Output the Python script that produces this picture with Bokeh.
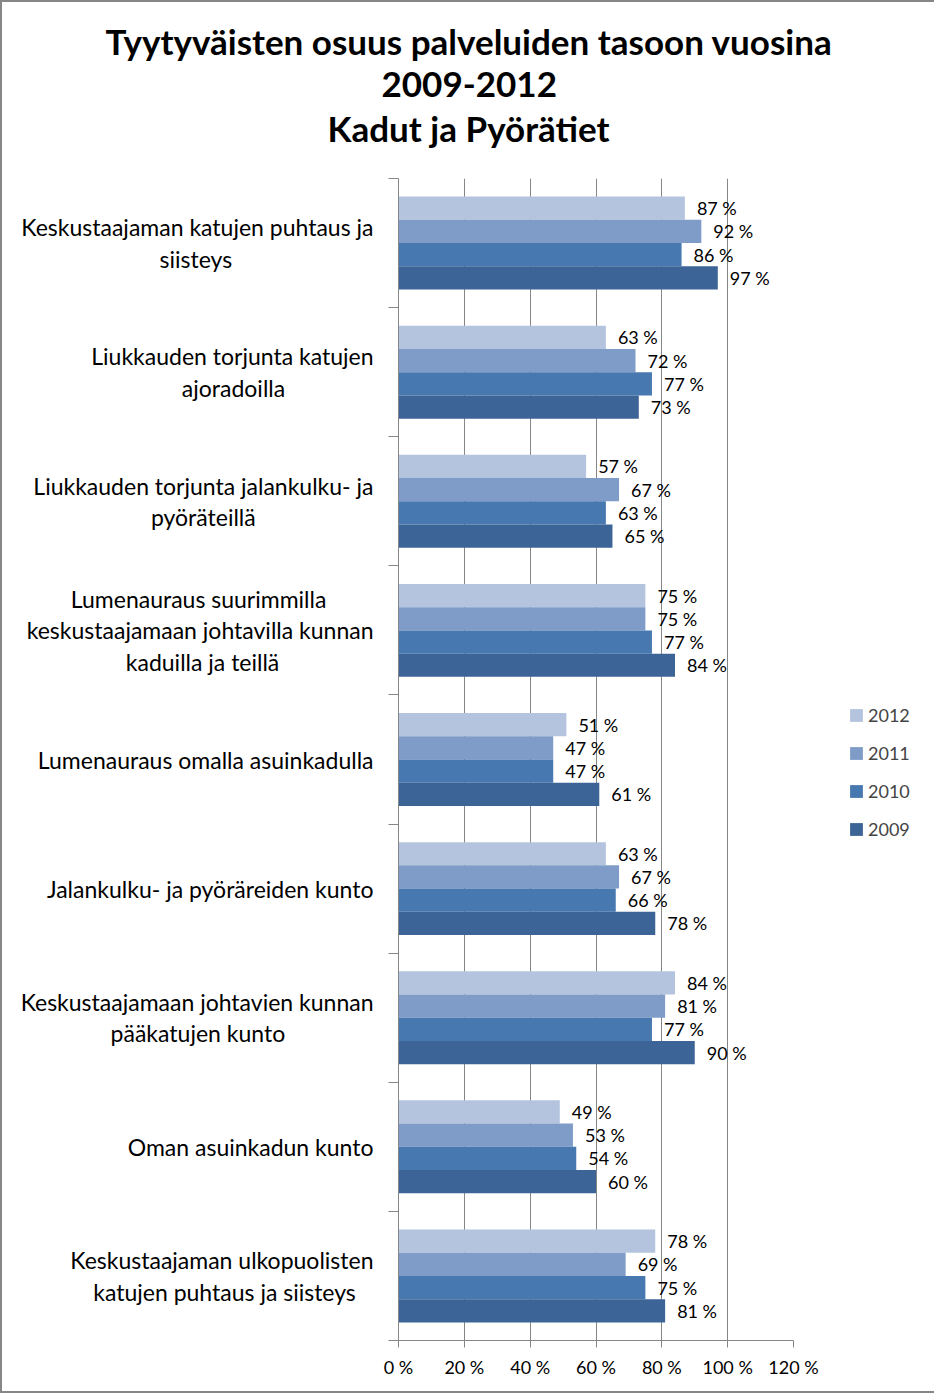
import subprocess
from bokeh.plotting import figure
from bokeh.models import (ColumnDataSource, Range1d, FixedTicker, PrintfTickFormatter,
                          Legend, LegendItem, Title)
from bokeh.transform import dodge
from bokeh.core.properties import value
from bokeh.embed import file_html
from bokeh.resources import INLINE

categories = [
    "Keskustaajaman katujen puhtaus ja\nsiisteys",
    "Liukkauden torjunta katujen\najoradoilla",
    "Liukkauden torjunta jalankulku- ja\npyöräteillä",
    "Lumenauraus suurimmilla\nkeskustaajamaan johtavilla kunnan\nkaduilla ja teillä",
    "Lumenauraus omalla asuinkadulla",
    "Jalankulku- ja pyöräreiden kunto",
    "Keskustaajamaan johtavien kunnan\npääkatujen kunto",
    "Oman asuinkadun kunto",
    "Keskustaajaman ulkopuolisten\nkatujen puhtaus ja siisteys",
]
years = ["2012", "2011", "2010", "2009"]
v2012 = [87, 63, 57, 75, 51, 63, 84, 49, 78]
v2011 = [92, 72, 67, 75, 47, 67, 81, 53, 69]
v2010 = [86, 77, 63, 77, 47, 66, 77, 54, 75]
v2009 = [97, 73, 65, 84, 61, 78, 90, 60, 81]
x_ticks = [0, 20, 40, 60, 80, 100, 120]
title_lines = ["Tyytyväisten osuus palveluiden tasoon vuosina", "2009-2012", "Kadut ja Pyörätiet"]

colors = {"2012": "#B5C4DE", "2011": "#7E9CC7", "2010": "#4878B0", "2009": "#3D6496"}
offsets = {"2012": 0.27, "2011": 0.09, "2010": -0.09, "2009": -0.27}
series = {"2012": v2012, "2011": v2011, "2010": v2010, "2009": v2009}

FONT = "Lato"
CAT_SIZE = 23


def _measurer(font_name, size):
    try:
        from PIL import ImageFont
        path = subprocess.run(["fc-match", "-f", "%{file}", font_name], capture_output=True,
                              text=True, timeout=5).stdout.strip()
        f = ImageFont.truetype(path, size)
        return f.getlength
    except Exception:
        return lambda s: 0.5 * size * len(s)


measure = _measurer(FONT, CAT_SIZE)


def center_lines(label):
    """Pad shorter lines so that the lines of a right-aligned block look centred."""
    lines = label.split("\n")
    if len(lines) == 1:
        return label
    widths = [measure(l) for l in lines]
    sp = measure("\u00a0") or measure(" ") or 0.2 * CAT_SIZE
    mw = max(widths)
    return "\n".join(l + "\u00a0" * int(round((mw - w) / 2 / sp)) for l, w in zip(lines, widths))


n = len(categories)
# category slots from top to bottom on a numeric axis: slot i spans [n-i-1, n-i]
pos = [n - i - 0.5 for i in range(n)]
boundaries = list(range(n + 1))

data = {"pos": pos}
for y in years:
    data["v" + y] = series[y]
    data["t" + y] = [f"{v} %" for v in series[y]]
src = ColumnDataSource(data)

p = figure(
    y_range=Range1d(0, n),
    x_range=Range1d(0, 120),
    frame_width=395, frame_height=1162,
    min_border_left=396, min_border_right=139, min_border_top=176, min_border_bottom=51,
    output_backend="svg", toolbar_location=None,
)
p.styles = {"border": "2px solid #878787"}
p.outline_line_color = None
p.background_fill_color = "white"
p.border_fill_color = "white"

items = []
for y in years:
    r = p.hbar(y=dodge("pos", offsets[y]), right="v" + y, left=0, height=0.18,
               source=src, fill_color=colors[y], line_color=None)
    items.append(LegendItem(label=y, renderers=[r]))
    p.text(x="v" + y, y=dodge("pos", offsets[y]), text="t" + y, source=src,
           x_offset=12, text_baseline="middle", text_align="left",
           text_font=value(FONT), text_font_size="18px", text_color="black")

# x axis
xa = p.xaxis[0]
xa.ticker = FixedTicker(ticks=x_ticks)
xa.formatter = PrintfTickFormatter(format="%d %%")
xa.axis_line_color = "#868686"
xa.major_tick_line_color = "#868686"
xa.major_tick_out = 7
xa.major_tick_in = 0
xa.minor_tick_line_color = None
xa.major_label_text_font = FONT
xa.major_label_text_font_size = "18px"
xa.major_label_text_color = "black"
xa.major_label_standoff = 8

# y axis: labels at slot centres, tick marks at slot boundaries (minor ticks)
ya = p.yaxis[0]
ya.ticker = FixedTicker(ticks=pos, minor_ticks=boundaries)
ya.major_label_overrides = {pv: center_lines(c) for pv, c in zip(pos, categories)}
ya.axis_line_color = "#868686"
ya.major_tick_line_color = None
ya.major_tick_out = 0
ya.major_tick_in = 0
ya.minor_tick_line_color = "#868686"
ya.minor_tick_out = 10
ya.minor_tick_in = 0
ya.major_label_text_font = FONT
ya.major_label_text_font_size = f"{CAT_SIZE}px"
ya.major_label_text_color = "black"
ya.major_label_standoff = 15
ya.major_label_text_line_height = 1.12

p.xgrid.ticker = FixedTicker(ticks=x_ticks)
p.xgrid.grid_line_color = "#868686"
p.ygrid.grid_line_color = None

legend = Legend(items=items, location=(55, 500), padding=0, margin=0, spacing=16,
                label_height=22, glyph_width=16, glyph_height=16, label_standoff=4,
                label_text_font=FONT, label_text_font_size="18px",
                border_line_color=None, background_fill_alpha=0)
p.add_layout(legend, "right")

# titles: added from the frame outward
p.add_layout(Title(text=" ", text_font_size="14px", standoff=8), "above")
title_offsets = [-293, -17, -71]
for line, off in reversed(list(zip(title_lines, title_offsets))):
    p.add_layout(Title(text=line, align="left", offset=off, text_font=FONT, text_color="black",
                       text_font_size="35px", text_font_style="bold", standoff=8), "above")

open("out.html", "w").write(file_html(p, INLINE))
